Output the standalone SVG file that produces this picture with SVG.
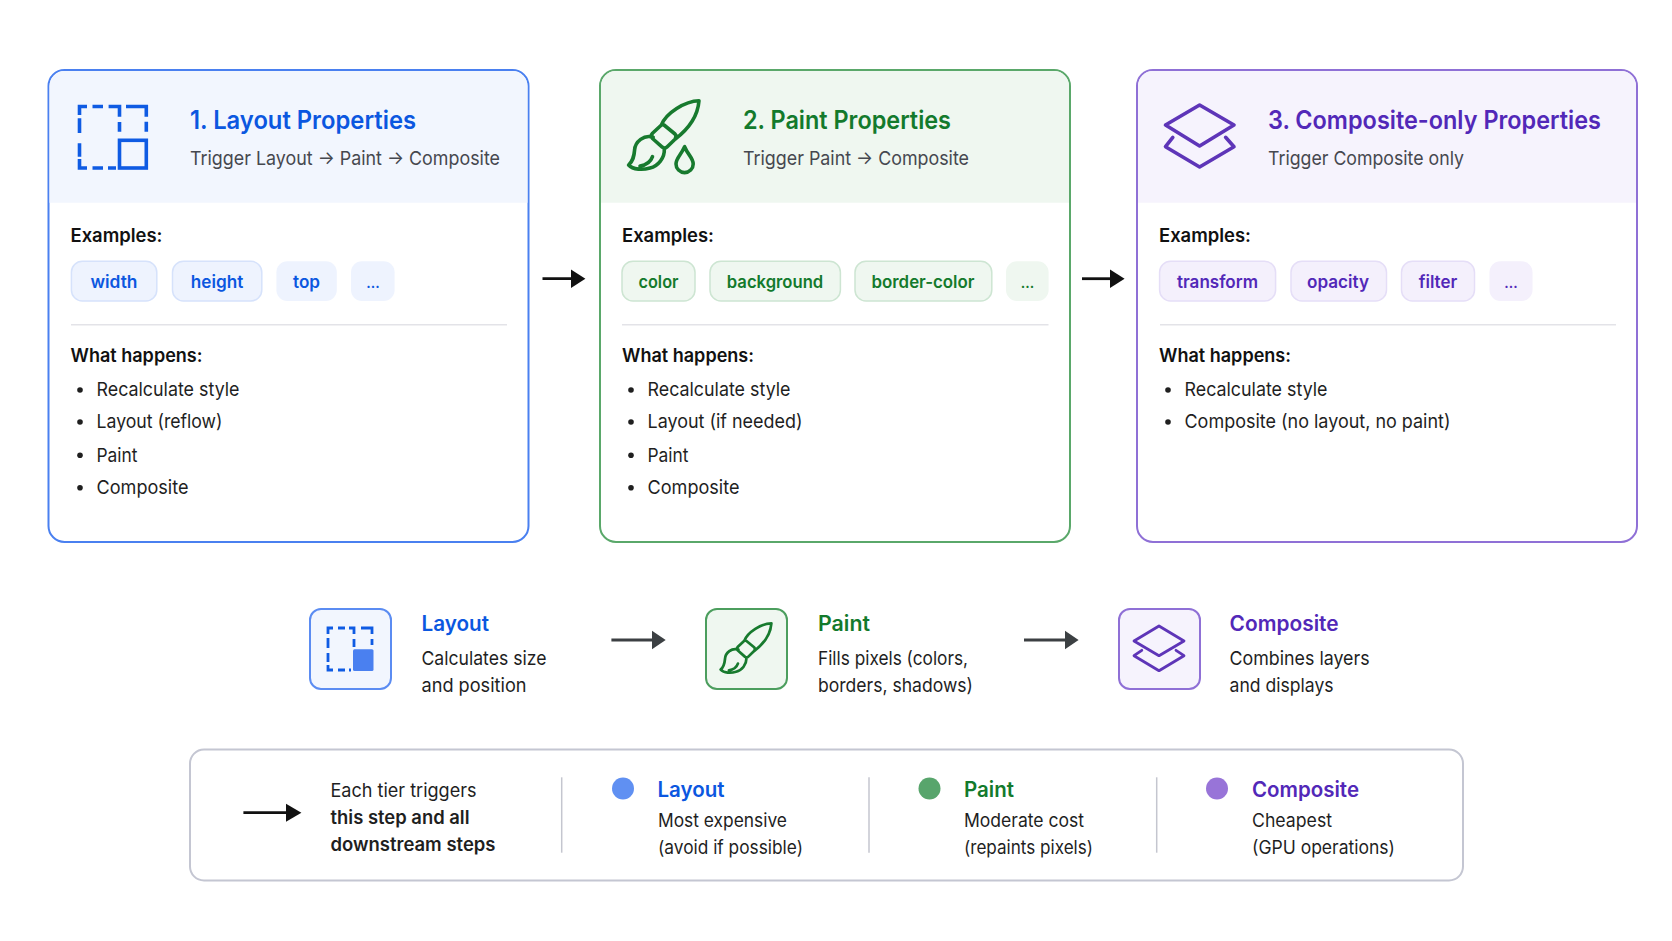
<svg xmlns="http://www.w3.org/2000/svg" width="1672" height="941" viewBox="0 0 1672 941">
<style>
text{font-family:Inter,Roboto,"Liberation Sans",sans-serif;fill:#1f1f1f}
.t{font-size:25px;font-weight:600}
.s{font-size:19px;fill:#46484f}
.h{font-size:18.5px;font-weight:600;fill:#111}
.c{font-size:17.5px;font-weight:600;text-anchor:middle}
.d{font-size:14px;font-weight:600;text-anchor:middle}
.l{font-size:19px}
.m{font-size:21px;font-weight:600}
.lg{font-size:18.5px}
.w{font-weight:600}
.b{fill:#0b57e0}.g{fill:#137a2c}.p{fill:#5228b8}
.card{fill:#fff;stroke-width:2}
.div{stroke:#e3e3e8;stroke-width:1.5}
.sep{stroke:#c4c6cf;stroke-width:1.5}
.bl{stroke:#0f5be3;fill:none;stroke-width:3.6}
.gr{stroke:#177a2e;fill:none;stroke-width:3.6;stroke-linecap:round;stroke-linejoin:round}
.pu{stroke:#5e35b8;fill:none;stroke-width:3.6;stroke-linejoin:round;stroke-linecap:round}
.cb{fill:#eef3fe;stroke:#d6e2fb;stroke-width:1.5}
.cg{fill:#eff7f0;stroke:#cde5d2;stroke-width:1.5}
.cp{fill:#f4f0fc;stroke:#e5def7;stroke-width:1.5}
</style>
<defs>
<path id="brush" d="M661.4 125C666 113 685 101 699 100.7C698 114 690 128 675 139.3M661.4 125L652.5 133.3Q650 136 652.5 138.5L662.5 147.3Q665 149 667 147L675 139.3Q677 136 675 134L664 125Q662.5 124 661.4 125ZM653.2 137.3C644 134 635 142 634.6 150C634 157 633 161 628.6 165C633 170 643 170 650 168C658 166 665 158 664.3 148.3M640 166C647 165 651 161 652.5 156.7"/>
<path id="layers" d="M1199.6 105L1234 125L1199.6 146L1165.5 125ZM1172.8 137.3L1165.5 146.7L1199.6 167L1234 146.7L1225.6 137.3"/>
</defs>
<rect width="1672" height="941" fill="#fff"/>
<g id="card-layout">
<rect class="card" x="48.5" y="70" width="480" height="472" rx="16" stroke="#4a80f0"/>
<path d="M49.5 202.7V86a15 15 0 0 1 15-15H512.5a15 15 0 0 1 15 15V202.7Z" fill="#f2f6fe"/>
<path class="bl" d="M79.5 115V106.5H87M92.5 106.5H103M108.6 106.5H119.5V116.7M119.5 122V131.7M126 106.5H146.3V116.7M146.3 121.7V131.7M79.5 118.3V133M79.5 143.3V156.7M79.5 159V168H87M92.5 168H103M108 168H116"/>
<rect class="bl" x="119.5" y="140.3" width="26.8" height="27.7"/>
<text class="t b" x="190" y="128.5" textLength="226" lengthAdjust="spacingAndGlyphs">1. Layout Properties</text>
<text class="s" x="190" y="165" textLength="310" lengthAdjust="spacingAndGlyphs">Trigger Layout → Paint → Composite</text>
<text class="h" x="70.5" y="241.7" textLength="92" lengthAdjust="spacingAndGlyphs">Examples:</text>
<rect class="cb" x="71.4" y="261.3" width="85.4" height="39.7" rx="11"/><text class="c b" x="114" y="288" textLength="47" lengthAdjust="spacingAndGlyphs">width</text>
<rect class="cb" x="172.5" y="261.3" width="89.3" height="39.7" rx="11"/><text class="c b" x="217" y="288" textLength="52.5" lengthAdjust="spacingAndGlyphs">height</text>
<rect class="cb" x="276.4" y="261.3" width="60.4" height="39.7" rx="11" style="stroke:none"/><text class="c b" x="306.5" y="288" textLength="27" lengthAdjust="spacingAndGlyphs">top</text>
<rect class="cb" x="351" y="261.3" width="43.6" height="39.7" rx="11" style="stroke:none"/><text class="d b" x="373" y="288">...</text>
<line class="div" x1="71" y1="324.7" x2="507" y2="324.7"/>
<text class="h" x="70.5" y="361.7" textLength="132" lengthAdjust="spacingAndGlyphs">What happens:</text>
<circle cx="80" cy="390" r="2.8" fill="#1f1f1f"/><text class="l" x="96.5" y="395.7" textLength="143" lengthAdjust="spacingAndGlyphs">Recalculate style</text>
<circle cx="80" cy="422" r="2.8" fill="#1f1f1f"/><text class="l" x="96.5" y="428" textLength="126" lengthAdjust="spacingAndGlyphs">Layout (reflow)</text>
<circle cx="80" cy="455.3" r="2.8" fill="#1f1f1f"/><text class="l" x="96.5" y="461.8" textLength="41" lengthAdjust="spacingAndGlyphs">Paint</text>
<circle cx="80" cy="487.7" r="2.8" fill="#1f1f1f"/><text class="l" x="96.5" y="494.2" textLength="92" lengthAdjust="spacingAndGlyphs">Composite</text>
</g>
<g id="card-paint">
<rect class="card" x="600" y="70" width="470" height="472" rx="16" stroke="#5aa86a"/>
<path d="M601 202.7V86a15 15 0 0 1 15-15H1054a15 15 0 0 1 15 15V202.7Z" fill="#eff7f0"/>
<use href="#brush" class="gr"/>
<path class="gr" d="M684.6 146.7C681 155 676 158 676 164a8.6 8.6 0 0 0 17.2 0C693.2 158 688 155 684.6 146.7Z"/>
<text class="t g" x="743" y="128.5" textLength="208" lengthAdjust="spacingAndGlyphs">2. Paint Properties</text>
<text class="s" x="743" y="165" textLength="226" lengthAdjust="spacingAndGlyphs">Trigger Paint → Composite</text>
<text class="h" x="622" y="241.7" textLength="92" lengthAdjust="spacingAndGlyphs">Examples:</text>
<rect class="cg" x="622" y="261.3" width="73" height="39.7" rx="11"/><text class="c g" x="658.5" y="288" textLength="40" lengthAdjust="spacingAndGlyphs">color</text>
<rect class="cg" x="710" y="261.3" width="130.4" height="39.7" rx="11"/><text class="c g" x="775" y="288" textLength="96.4" lengthAdjust="spacingAndGlyphs">background</text>
<rect class="cg" x="855" y="261.3" width="136.8" height="39.7" rx="11"/><text class="c g" x="923" y="288" textLength="103" lengthAdjust="spacingAndGlyphs">border-color</text>
<rect class="cg" x="1006" y="261.3" width="42.6" height="39.7" rx="11" style="stroke:none"/><text class="d g" x="1027.5" y="288">...</text>
<line class="div" x1="622" y1="324.7" x2="1048.5" y2="324.7"/>
<text class="h" x="622" y="361.7" textLength="132" lengthAdjust="spacingAndGlyphs">What happens:</text>
<circle cx="631" cy="390" r="2.8" fill="#1f1f1f"/><text class="l" x="647.5" y="395.7" textLength="143" lengthAdjust="spacingAndGlyphs">Recalculate style</text>
<circle cx="631" cy="422" r="2.8" fill="#1f1f1f"/><text class="l" x="647.5" y="428" textLength="155" lengthAdjust="spacingAndGlyphs">Layout (if needed)</text>
<circle cx="631" cy="455.3" r="2.8" fill="#1f1f1f"/><text class="l" x="647.5" y="461.8" textLength="41" lengthAdjust="spacingAndGlyphs">Paint</text>
<circle cx="631" cy="487.7" r="2.8" fill="#1f1f1f"/><text class="l" x="647.5" y="494.2" textLength="92" lengthAdjust="spacingAndGlyphs">Composite</text>
</g>
<g id="card-composite">
<rect class="card" x="1137" y="70" width="500" height="472" rx="16" stroke="#8f70d6"/>
<path d="M1138 202.7V86a15 15 0 0 1 15-15H1621a15 15 0 0 1 15 15V202.7Z" fill="#f6f3fd"/>
<use href="#layers" class="pu"/>
<text class="t p" x="1268" y="128.5" textLength="333" lengthAdjust="spacingAndGlyphs">3. Composite-only Properties</text>
<text class="s" x="1268" y="165" textLength="196" lengthAdjust="spacingAndGlyphs">Trigger Composite only</text>
<text class="h" x="1159" y="241.7" textLength="92" lengthAdjust="spacingAndGlyphs">Examples:</text>
<rect class="cp" x="1159.6" y="261.3" width="116" height="39.7" rx="11"/><text class="c p" x="1217.5" y="288" textLength="81" lengthAdjust="spacingAndGlyphs">transform</text>
<rect class="cp" x="1291" y="261.3" width="95.5" height="39.7" rx="11"/><text class="c p" x="1338" y="288" textLength="62" lengthAdjust="spacingAndGlyphs">opacity</text>
<rect class="cp" x="1401.5" y="261.3" width="73" height="39.7" rx="11"/><text class="c p" x="1438" y="288" textLength="38.5" lengthAdjust="spacingAndGlyphs">filter</text>
<rect class="cp" x="1489.5" y="261.3" width="43" height="39.7" rx="11" style="stroke:none"/><text class="d p" x="1511" y="288">...</text>
<line class="div" x1="1160" y1="324.7" x2="1616" y2="324.7"/>
<text class="h" x="1159" y="361.7" textLength="132" lengthAdjust="spacingAndGlyphs">What happens:</text>
<circle cx="1168" cy="390" r="2.8" fill="#1f1f1f"/><text class="l" x="1184.5" y="395.7" textLength="143" lengthAdjust="spacingAndGlyphs">Recalculate style</text>
<circle cx="1168" cy="422" r="2.8" fill="#1f1f1f"/><text class="l" x="1184.5" y="428" textLength="266" lengthAdjust="spacingAndGlyphs">Composite (no layout, no paint)</text>
</g>
<g id="step-layout">
<rect x="310" y="609" width="81" height="80" rx="11" fill="#f2f6fe" stroke="#5b8cf2" stroke-width="2"/>
<path class="bl" style="stroke-width:2.8" d="M328 634V628H333M338 628H345M349 628H354V634M354 639V647M361 628H372V634M372 639V645M328 638V648M328 653V662M328 665V670H333M338 670H345M349 670H351"/>
<rect x="353" y="649.3" width="20.5" height="21.7" rx="1.5" fill="#4a80f0"/>
<text class="m b" x="421.5" y="630.5" textLength="67.5" lengthAdjust="spacingAndGlyphs">Layout</text>
<text class="l" x="421.5" y="664.7" textLength="125" lengthAdjust="spacingAndGlyphs">Calculates size</text>
<text class="l" x="421.5" y="691.7" textLength="105" lengthAdjust="spacingAndGlyphs">and position</text>
</g>
<g id="step-paint">
<rect x="706" y="609" width="81" height="80" rx="11" fill="#eff7f0" stroke="#4c9e5e" stroke-width="2"/>
<use href="#brush" class="gr" transform="translate(268.1 550.8) scale(.72)" style="stroke-width:3.8"/>
<text class="m g" x="818" y="630.5" textLength="52" lengthAdjust="spacingAndGlyphs">Paint</text>
<text class="l" x="818" y="664.7" textLength="150" lengthAdjust="spacingAndGlyphs">Fills pixels (colors,</text>
<text class="l" x="818" y="691.7" textLength="155" lengthAdjust="spacingAndGlyphs">borders, shadows)</text>
</g>
<g id="step-composite">
<rect x="1119" y="609" width="81" height="80" rx="11" fill="#f6f3fd" stroke="#8f70d6" stroke-width="2"/>
<path class="pu" style="stroke-width:2.8" d="M1159 626L1184 641L1159 655.7L1134 641ZM1141.8 650.3L1134 655.7L1159 670.7L1184 655.7L1176 650.3"/>
<text class="m p" x="1229.6" y="630.5" textLength="109" lengthAdjust="spacingAndGlyphs">Composite</text>
<text class="l" x="1229.6" y="664.7" textLength="140" lengthAdjust="spacingAndGlyphs">Combines layers</text>
<text class="l" x="1229.6" y="691.7" textLength="104" lengthAdjust="spacingAndGlyphs">and displays</text>
</g>
<g id="connectors">
<path d="M542.5 278.7H575" stroke="#111" stroke-width="2.8"/><path d="M571 269.4L585.4 278.7L571 288Z" fill="#111"/>
<path d="M1082 278.7H1114" stroke="#111" stroke-width="2.8"/><path d="M1110 269.4L1124.6 278.7L1110 288Z" fill="#111"/>
<path d="M611.4 640H656" stroke="#3c4043" stroke-width="2.8"/><path d="M652 630.7L665.7 640L652 649.3Z" fill="#3c4043"/>
<path d="M1024 640H1069" stroke="#3c4043" stroke-width="2.8"/><path d="M1065 630.7L1078.6 640L1065 649.3Z" fill="#3c4043"/>
</g>
<g id="legend">
<rect x="190" y="749.5" width="1273" height="131" rx="14" fill="#fff" stroke="#c4c6d2" stroke-width="2"/>
<path d="M243.4 812.7H290" stroke="#111" stroke-width="2.8"/><path d="M286 803.7L301.4 812.7L286 821.7Z" fill="#111"/>
<text class="lg" x="330.5" y="797" textLength="146" lengthAdjust="spacingAndGlyphs">Each tier triggers</text>
<text class="lg w" x="330.5" y="824" textLength="139" lengthAdjust="spacingAndGlyphs">this step and all</text>
<text class="lg w" x="330.5" y="851" textLength="165" lengthAdjust="spacingAndGlyphs">downstream steps</text>
<line class="sep" x1="561.7" y1="777.3" x2="561.7" y2="852.7"/>
<line class="sep" x1="869" y1="777.3" x2="869" y2="852.7"/>
<line class="sep" x1="1156.7" y1="777.3" x2="1156.7" y2="852.7"/>
<circle cx="623" cy="788.5" r="11" fill="#6090f2"/>
<text class="m b" x="657.5" y="796.5" textLength="67" lengthAdjust="spacingAndGlyphs">Layout</text>
<text class="lg" x="658" y="826.7" textLength="129" lengthAdjust="spacingAndGlyphs">Most expensive</text>
<text class="lg" x="658" y="853.7" textLength="145" lengthAdjust="spacingAndGlyphs">(avoid if possible)</text>
<circle cx="929.5" cy="788.5" r="11" fill="#58a56c"/>
<text class="m g" x="964" y="796.5" textLength="50" lengthAdjust="spacingAndGlyphs">Paint</text>
<text class="lg" x="964" y="826.7" textLength="120" lengthAdjust="spacingAndGlyphs">Moderate cost</text>
<text class="lg" x="964" y="853.7" textLength="129" lengthAdjust="spacingAndGlyphs">(repaints pixels)</text>
<circle cx="1217" cy="788.5" r="11" fill="#9874d8"/>
<text class="m p" x="1252" y="796.5" textLength="107" lengthAdjust="spacingAndGlyphs">Composite</text>
<text class="lg" x="1252" y="826.7" textLength="80" lengthAdjust="spacingAndGlyphs">Cheapest</text>
<text class="lg" x="1252" y="853.7" textLength="143" lengthAdjust="spacingAndGlyphs">(GPU operations)</text>
</g>
</svg>
